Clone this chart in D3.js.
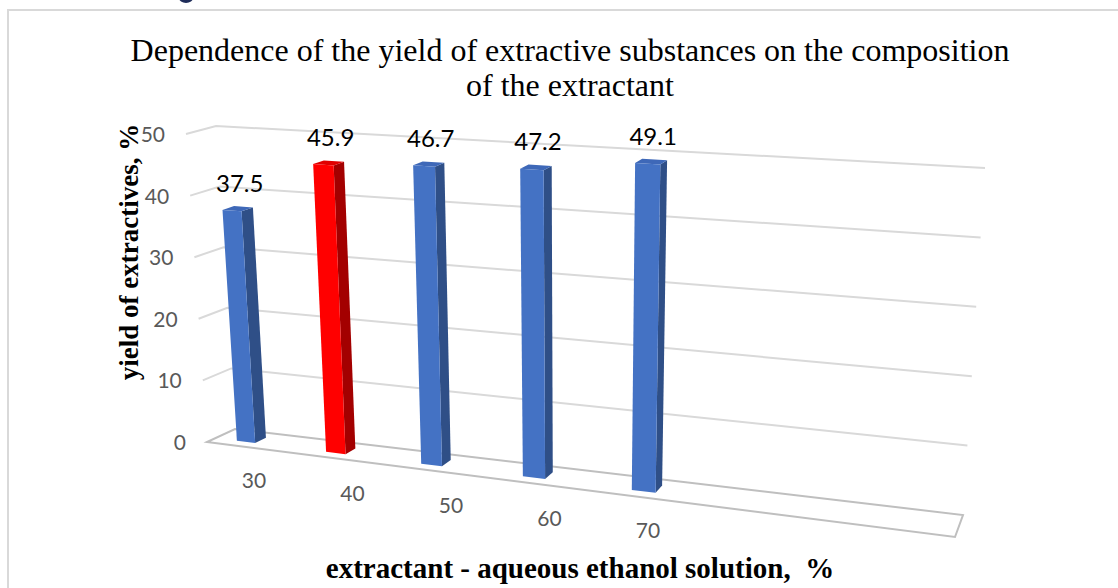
<!DOCTYPE html>
<html>
<head>
<meta charset="utf-8">
<script src="https://cdn.jsdelivr.net/npm/d3@7"></script>
<style>
  body { margin: 0; background: #fff; }
  svg { display: block; }
</style>
</head>
<body>
<div id="chart"></div>
<script>
// data
const categories = ["30", "40", "50", "60", "70"]
const yields = [37.5, 45.9, 46.7, 47.2, 49.1]
const valueTicks = [0, 10, 20, 30, 40, 50]
const highlight = "40"

const W = 1118, H = 588

const svg = d3.select("#chart")
  .append("svg")
  .attr("width", W)
  .attr("height", H)

// frame of the chart area (runs off the page on the right / bottom)
svg.append("path")
  .attr("d", `M8,${H+5} L8,10 L${W+5},10`)
  .attr("fill", "none")
  .attr("stroke", "#d9d9d9")
  .attr("stroke-width", 2)

// bit of a glyph cut off at the top of the screenshot
svg.append("ellipse")
  .attr("cx", 186).attr("cy", -2).attr("rx", 7).attr("ry", 5)
  .attr("fill", "#1f2d5a")

// ----------------- //
// 3D box corners (pixel positions of the plot cube)
// ----------------- //
const front = {l0: [207, 442], lt: [186, 134], r0: [955, 537], rt: [977, 181]}
const back  = {l0: [235, 429], lt: [216, 126], r0: [963, 515], rt: [985, 168]}

const y = d3.scaleLinear().domain([0, 50]).range([0, 1])
const lerp = (a, b, t) => [a[0] + (b[0] - a[0]) * t, a[1] + (b[1] - a[1]) * t]

// perspective along the category axis: the right end is nearer
const k = 0.27
const persp = u => u / (k * (1 - u) + 1)

function face(c, u, t) {
  const l = lerp(c.l0, c.lt, t)
  const r = lerp(c.r0, c.rt, t)
  return lerp(l, r, persp(u))
}
// u along categories (0..1), v = value, w = depth (0 front, 1 back)
function P(u, v, w) {
  const t = y(v)
  return lerp(face(front, u, t), face(back, u, t), w)
}

// categories along the floor
const x = d3.scaleBand()
  .domain(categories)
  .range([-0.021, 0.707])
  .paddingInner(0.79)
  .paddingOuter(0.395)

const barDepth = [0.3, 0.7]

const line = d3.line()

// ----------------- //
// Gridlines
// ----------------- //
valueTicks.forEach(v => {
  if (v === 0) return
  svg.append("path")
    .attr("d", line([P(0, v, 0), P(0, v, 1), P(1, v, 1)]))
    .attr("fill", "none")
    .attr("stroke", "#d9d9d9")
    .attr("stroke-width", 2)
})

// floor
svg.append("path")
  .attr("d", line([P(0, 0, 0), P(1, 0, 0), P(1, 0, 1), P(0, 0, 1)]) + "Z")
  .attr("fill", "none")
  .attr("stroke", "#bfbfbf")
  .attr("stroke-width", 2)

// tick labels
valueTicks.forEach(v => {
  const p = P(0, v, 0)
  svg.append("text")
    .attr("x", p[0] - 21)
    .attr("y", p[1] + 8)
    .attr("text-anchor", "end")
    .attr("font-family", "Lato, 'Open Sans', sans-serif")
    .attr("font-size", 21)
    .attr("fill", "#595959")
    .text(v)
})

// category labels
const labelX = d3.scalePoint().domain(categories).range([254, 648])
const labelY = d3.scalePoint().domain(categories).range([488, 538])
categories.forEach(c => {
  svg.append("text")
    .attr("x", labelX(c))
    .attr("y", labelY(c))
    .attr("text-anchor", "middle")
    .attr("font-family", "Lato, 'Open Sans', sans-serif")
    .attr("font-size", 21)
    .attr("fill", "#595959")
    .text(c)
})

// ----------------- //
// Bars
// ----------------- //
const colors = {
  blue: {front: "#4472c4", side: "#2f4f87", top: "#3e68b8"},
  red:  {front: "#ff0000", side: "#a30000", top: "#e00000"}
}

categories.forEach((c, i) => {
  const v = yields[i]
  const u0 = x(c), u1 = x(c) + x.bandwidth()
  const [w0, w1] = barDepth
  const col = c === highlight ? colors.red : colors.blue
  const g = svg.append("g")

  // right side
  g.append("path")
    .attr("d", line([P(u1, 0, w0), P(u1, 0, w1), P(u1, v, w1), P(u1, v, w0)]) + "Z")
    .attr("fill", col.side)
  // top
  g.append("path")
    .attr("d", line([P(u0, v, w0), P(u1, v, w0), P(u1, v, w1), P(u0, v, w1)]) + "Z")
    .attr("fill", col.top)
  // front
  g.append("path")
    .attr("d", line([P(u0, 0, w0), P(u1, 0, w0), P(u1, v, w0), P(u0, v, w0)]) + "Z")
    .attr("fill", col.front)

  // data label
  const top = P((u0 + u1) / 2, v, 0.5)
  g.append("text")
    .attr("x", top[0] + 2)
    .attr("y", top[1] - 17)
    .attr("text-anchor", "middle")
    .attr("font-family", "Lato, 'Open Sans', sans-serif")
    .attr("font-size", 24)
    .attr("fill", "#000")
    .text(v)
})

// ----------------- //
// Titles
// ----------------- //
const title = svg.append("text")
  .attr("text-anchor", "middle")
  .attr("font-family", "'Liberation Serif', 'Times New Roman', serif")
  .attr("font-size", 32)
  .attr("fill", "#000")
title.append("tspan").attr("x", 570).attr("y", 61)
  .text("Dependence of the yield of extractive substances on the composition")
title.append("tspan").attr("x", 570).attr("y", 96)
  .text("of the extractant")

svg.append("text")
  .attr("transform", "translate(138,252) rotate(-90)")
  .attr("text-anchor", "middle")
  .attr("font-family", "'Liberation Serif', 'Times New Roman', serif")
  .attr("font-weight", "bold")
  .attr("font-size", 27)
  .text("yield of extractives, %")

svg.append("text")
  .attr("x", 580)
  .attr("y", 578)
  .attr("text-anchor", "middle")
  .attr("font-family", "'Liberation Serif', 'Times New Roman', serif")
  .attr("font-weight", "bold")
  .attr("font-size", 29)
  .attr("xml:space", "preserve")
  .text("extractant - aqueous ethanol solution,  %")
</script>
</body>
</html>
